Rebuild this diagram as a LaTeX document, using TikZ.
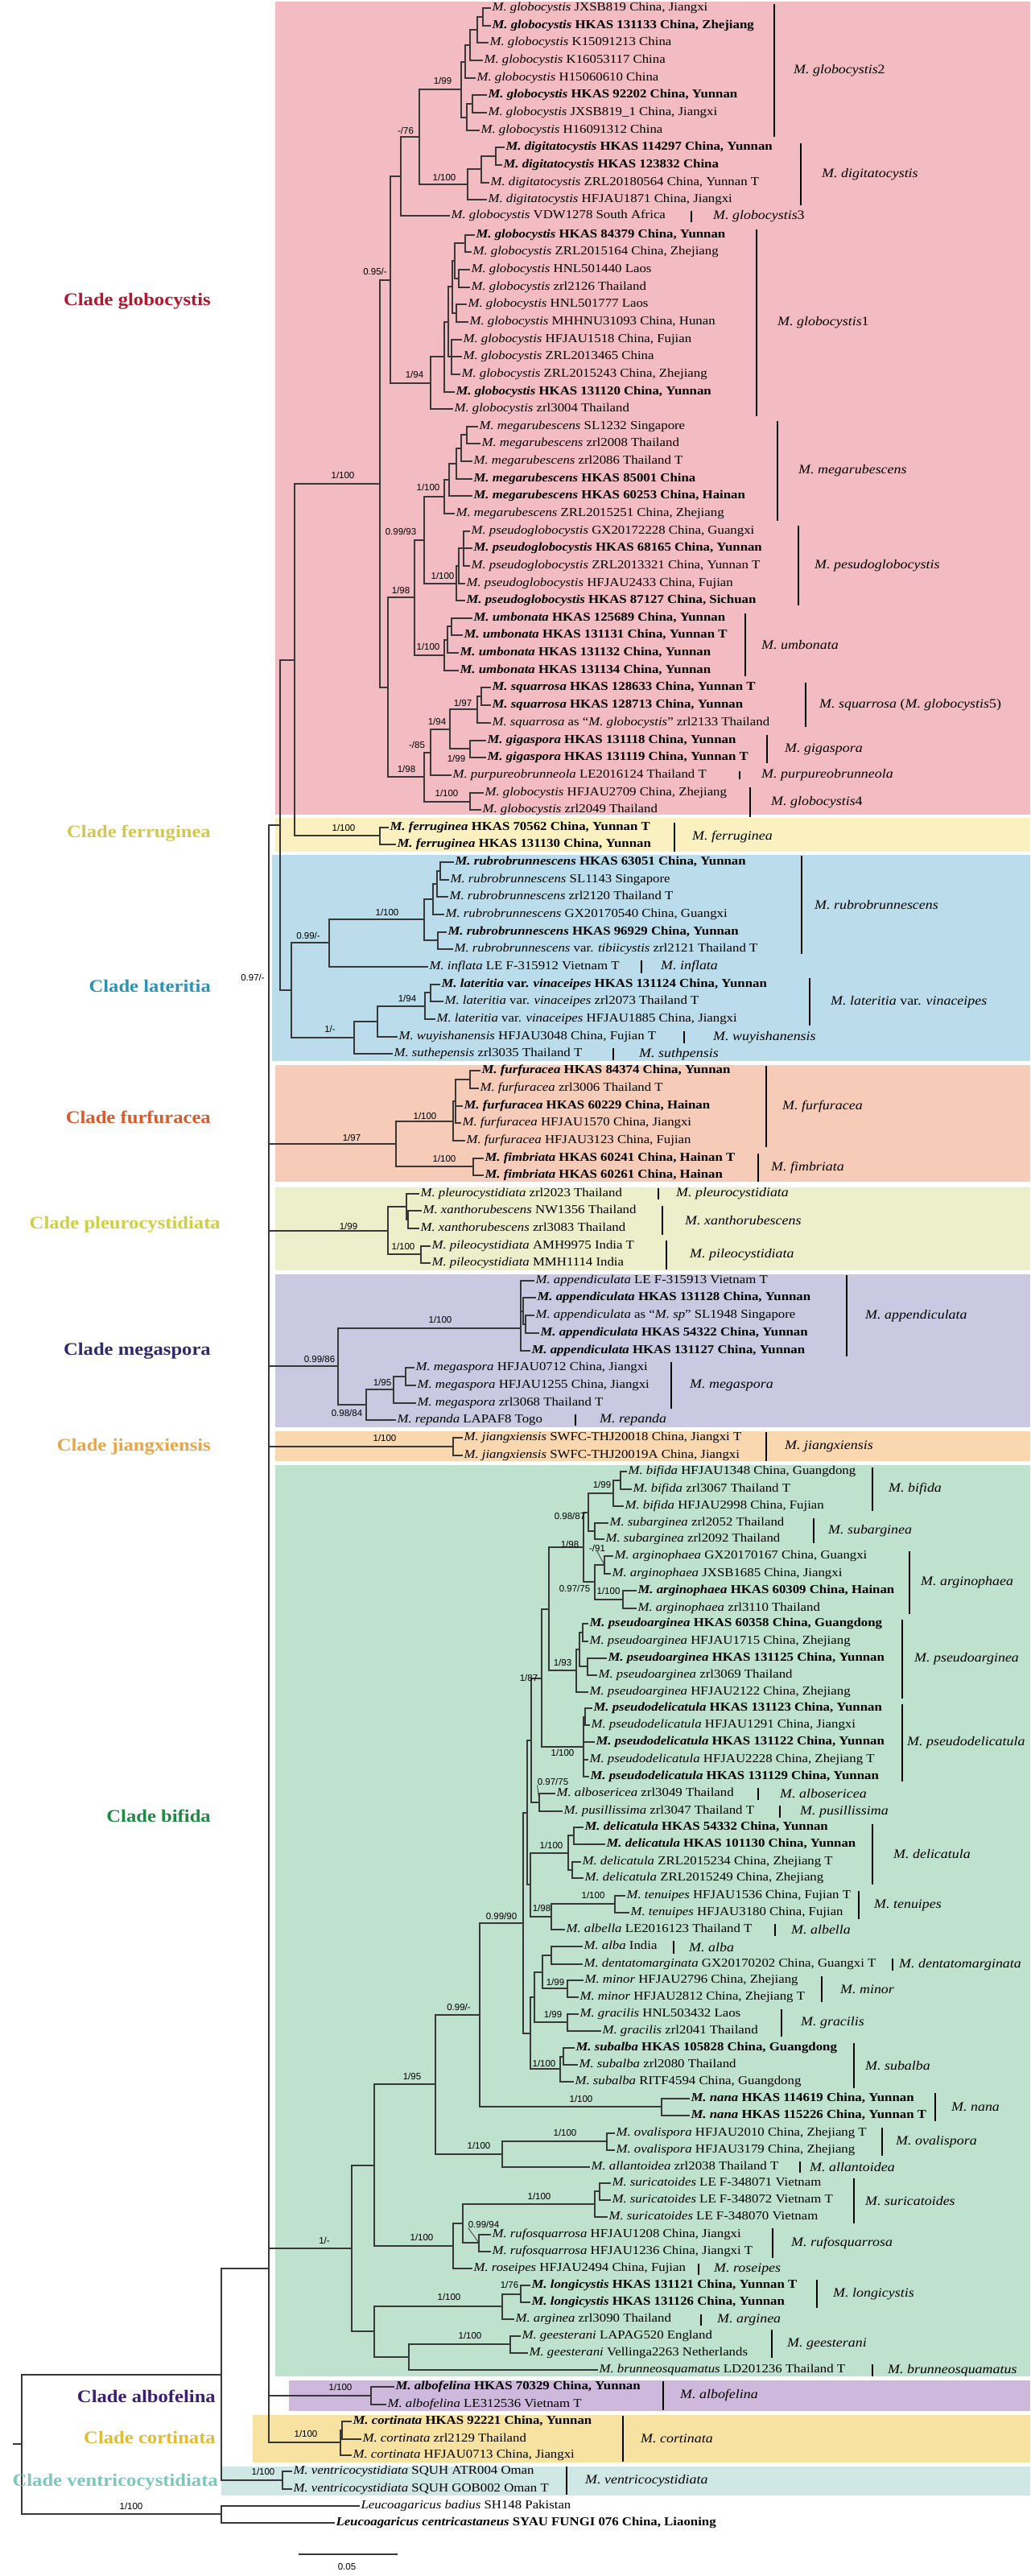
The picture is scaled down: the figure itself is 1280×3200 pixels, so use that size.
\documentclass[tikz,border=0pt]{standalone}
\usepackage{fontspec}
\setmainfont{Liberation Serif}[FakeStretch=1.12]
\newfontfamily\suppfont{Liberation Sans}
\definecolor{bgGlob}{HTML}{F3BCC2}
\definecolor{bgFerr}{HTML}{FBF1C0}
\definecolor{bgLat}{HTML}{BBDDEB}
\definecolor{bgFurf}{HTML}{F6CBB7}
\definecolor{bgPleu}{HTML}{ECF0CA}
\definecolor{bgMega}{HTML}{CBC8E2}
\definecolor{bgJiang}{HTML}{F9D8B0}
\definecolor{bgBif}{HTML}{BFE2CE}
\definecolor{bgAlbo}{HTML}{CEB9DD}
\definecolor{bgCort}{HTML}{F8E2A2}
\definecolor{bgVent}{HTML}{CFE7E5}
\definecolor{tcGlob}{HTML}{B3162F}
\definecolor{tcFerr}{HTML}{D2C850}
\definecolor{tcLat}{HTML}{2E92B4}
\definecolor{tcFurf}{HTML}{DA5A2C}
\definecolor{tcPleu}{HTML}{CFCF45}
\definecolor{tcMega}{HTML}{2E2A70}
\definecolor{tcJiang}{HTML}{E9A548}
\definecolor{tcBif}{HTML}{1E8B45}
\definecolor{tcAlbo}{HTML}{3C1F70}
\definecolor{tcCort}{HTML}{E2BC34}
\definecolor{tcVent}{HTML}{7DC7BB}
\colorlet{brc}{black!78}
\newcommand\leaffont{\fontsize{15}{16}\selectfont}
\newcommand\supsize{\suppfont\fontsize{11.5}{12}\selectfont}
% leaves: name, x, y, epithet, rest
\newcommand\lf[5]{\node[leaf] (#1) at (#2,#3) {\textit{M. #4} #5};}
\newcommand\lfb[5]{\node[leaf,font=\leaffont\bfseries] (#1) at (#2,#3) {\textit{M. #4} #5};}
% parent to children
\newcommand\kids[2]{\foreach \ch in {#2}{\draw[br] (#1) |- (\ch);}}
% species bar and name: name, bar x, y1, y2, label x, text
\newcommand\grp[6]{\draw[bar] (#2,#3) -- (#2,#4); \node[slab] (#1) at (#5,{(#3+#4)/2}) {#6};}

\begin{document}
\begin{tikzpicture}[x=1pt,y=-1pt,
    leaf/.style={anchor=west,inner sep=0pt,outer sep=1.5pt,text height=10pt,text depth=3pt,font=\leaffont},
    br/.style={draw=brc,line width=1.4pt},
    bar/.style={draw=black,line width=2.6pt},
    slab/.style={anchor=west,inner sep=0pt,font=\fontsize{16}{17}\selectfont},
    sup/.style={inner sep=0pt,font=\supsize},
    lead/.style={draw=brc,line width=0.8pt},
    clade/.style={anchor=east,inner sep=0pt,font=\fontsize{22}{23}\selectfont\bfseries}]
\fill[white] (0,0) rectangle (1280,3200);
\useasboundingbox (0,0) rectangle (1280,3200);

% clade backgrounds
\fill[bgGlob] (342,2) rectangle (1280,1012);
\fill[bgFerr] (342,1016) rectangle (1280,1058);
\fill[bgLat] (338,1062) rectangle (1280,1318);
\fill[bgFurf] (342,1323) rectangle (1280,1468);
\fill[bgPleu] (342,1475) rectangle (1280,1578);
\fill[bgMega] (342,1583) rectangle (1280,1773);
\fill[bgJiang] (342,1778) rectangle (1280,1815);
\fill[bgBif] (342,1820) rectangle (1280,2952);
\fill[bgAlbo] (359,2957) rectangle (1280,2995);
\fill[bgCort] (314,3000) rectangle (1280,3059);
\fill[bgVent] (275,3064) rectangle (1280,3100);

% ---- clade globocystis
\lf{g1}{610}{10}{globocystis}{JXSB819 China, Jiangxi}
\lfb{g2}{610}{32}{globocystis}{HKAS 131133 China, Zhejiang}
\lf{g3}{607}{53}{globocystis}{K15091213 China}
\lf{g4}{600}{75}{globocystis}{K16053117 China}
\lf{g5}{591}{97}{globocystis}{H15060610 China}
\lfb{g6}{605}{118}{globocystis}{HKAS 92202 China, Yunnan}
\lf{g7}{605}{140}{globocystis}{JXSB819\_1 China, Jiangxi}
\lf{g8}{596}{162}{globocystis}{H16091312 China}
\lfb{d1}{627}{183}{digitatocystis}{HKAS 114297 China, Yunnan}
\lfb{d2}{624}{205}{digitatocystis}{HKAS 123832 China}
\lf{d3}{608}{227}{digitatocystis}{ZRL20180564 China, Yunnan T}
\lf{d4}{605}{248}{digitatocystis}{HFJAU1871 China, Jiangxi}
\lf{g9}{559}{268}{globocystis}{VDW1278 South Africa}
\lfb{h1}{590}{292}{globocystis}{HKAS 84379 China, Yunnan}
\lf{h2}{586}{313}{globocystis}{ZRL2015164 China, Zhejiang}
\lf{h3}{584}{335}{globocystis}{HNL501440 Laos}
\lf{h4}{584}{357}{globocystis}{zrl2126 Thailand}
\lf{h5}{580}{378}{globocystis}{HNL501777 Laos}
\lf{h6}{582}{400}{globocystis}{MHHNU31093 China, Hunan}
\lf{h7}{574}{422}{globocystis}{HFJAU1518 China, Fujian}
\lf{h8}{574}{443}{globocystis}{ZRL2013465 China}
\lf{h9}{572}{465}{globocystis}{ZRL2015243 China, Zhejiang}
\lfb{h10}{565}{487}{globocystis}{HKAS 131120 China, Yunnan}
\lf{h11}{563}{508}{globocystis}{zrl3004 Thailand}
\lf{r1}{594}{530}{megarubescens}{SL1232 Singapore}
\lf{r2}{597}{551}{megarubescens}{zrl2008 Thailand}
\lf{r3}{587}{573}{megarubescens}{zrl2086 Thailand T}
\lfb{r4}{587}{595}{megarubescens}{HKAS 85001 China}
\lfb{r5}{587}{616}{megarubescens}{HKAS 60253 China, Hainan}
\lf{r6}{565}{638}{megarubescens}{ZRL2015251 China, Zhejiang}
\lf{p1}{584}{660}{pseudoglobocystis}{GX20172228 China, Guangxi}
\lfb{p2}{587}{681}{pseudoglobocystis}{HKAS 68165 China, Yunnan}
\lf{p3}{584}{703}{pseudoglobocystis}{ZRL2013321 China, Yunnan T}
\lf{p4}{578}{725}{pseudoglobocystis}{HFJAU2433 China, Fujian}
\lfb{p5}{578}{746}{pseudoglobocystis}{HKAS 87127 China, Sichuan}
\lfb{u1}{587}{768}{umbonata}{HKAS 125689 China, Yunnan}
\lfb{u2}{575}{789}{umbonata}{HKAS 131131 China, Yunnan T}
\lfb{u3}{570}{811}{umbonata}{HKAS 131132 China, Yunnan}
\lfb{u4}{570}{833}{umbonata}{HKAS 131134 China, Yunnan}
\lfb{s1}{610}{854}{squarrosa}{HKAS 128633 China, Yunnan T}
\lfb{s2}{610}{876}{squarrosa}{HKAS 128713 China, Yunnan}
\lf{s3}{610}{898}{squarrosa}{as “\textit{M. globocystis}” zrl2133 Thailand}
\lfb{gg1}{604}{920}{gigaspora}{HKAS 131118 China, Yunnan}
\lfb{gg2}{604}{941}{gigaspora}{HKAS 131119 China, Yunnan T}
\lf{pp}{561}{963}{purpureobrunneola}{LE2016124 Thailand T}
\lf{q1}{601}{985}{globocystis}{HFJAU2709 China, Zhejiang}
\lf{q2}{598}{1006}{globocystis}{zrl2049 Thailand}

\coordinate (n12) at (600,21);
\coordinate (n123) at (593,37);
\coordinate (n1234) at (584,56);
\coordinate (n12345) at (578,77);
\coordinate (n67) at (587,129);
\coordinate (n678) at (580,146);
\coordinate (nG2) at (573,111);
\coordinate (nd12) at (616,194);
\coordinate (nd123) at (598,210);
\coordinate (nD) at (581,229);
\coordinate (n76) at (521,170);
\coordinate (n7x) at (498,219);
\coordinate (m12) at (578,302);
\coordinate (m34) at (570,346);
\coordinate (m56) at (567,389);
\coordinate (m14) at (565,324);
\coordinate (m16) at (562,356);
\coordinate (m79) at (561,443);
\coordinate (m19) at (557,400);
\coordinate (m110) at (552,443);
\coordinate (nG1) at (535,476);
\coordinate (n95) at (485,348);
\coordinate (r12) at (580,540);
\coordinate (r13) at (573,557);
\coordinate (r14) at (567,576);
\coordinate (r15) at (558,596);
\coordinate (nMR) at (552,617);
\coordinate (p123) at (576,681);
\coordinate (p1234) at (570,703);
\coordinate (nPG) at (567,725);
\coordinate (n9993) at (527,671);
\coordinate (u12) at (561,778);
\coordinate (u13) at (556,795);
\coordinate (nU) at (552,814);
\coordinate (n198a) at (515,742);
\coordinate (s12) at (598,865);
\coordinate (nSQ) at (593,881);
\coordinate (nGG) at (584,930);
\coordinate (n194) at (559,906);
\coordinate (n85) at (535,935);
\coordinate (nG4) at (584,996);
\coordinate (n198b) at (527,965);
\coordinate (nlow) at (482,854);
\coordinate (nGLOB) at (472,601);
\kids{n12}{g1,g2} \kids{n123}{n12,g3} \kids{n1234}{n123,g4} \kids{n12345}{n1234,g5}
\kids{n67}{g6,g7} \kids{n678}{n67,g8} \kids{nG2}{n12345,n678}
\kids{nd12}{d1,d2} \kids{nd123}{nd12,d3} \kids{nD}{nd123,d4} \kids{n76}{nG2,nD} \kids{n7x}{n76,g9}
\kids{m12}{h1,h2} \kids{m34}{h3,h4} \kids{m56}{h5,h6} \kids{m14}{m12,m34} \kids{m16}{m14,m56}
\kids{m79}{h7,h8,h9} \kids{m19}{m16,m79} \kids{m110}{m19,h10} \kids{nG1}{m110,h11} \kids{n95}{n7x,nG1}
\kids{r12}{r1,r2} \kids{r13}{r12,r3} \kids{r14}{r13,r4} \kids{r15}{r14,r5} \kids{nMR}{r15,r6}
\kids{p123}{p1,p2,p3} \kids{p1234}{p123,p4} \kids{nPG}{p1234,p5} \kids{n9993}{nMR,nPG}
\kids{u12}{u1,u2} \kids{u13}{u12,u3} \kids{nU}{u13,u4} \kids{n198a}{n9993,nU}
\kids{s12}{s1,s2} \kids{nSQ}{s12,s3} \kids{nGG}{gg1,gg2} \kids{n194}{nSQ,nGG} \kids{n85}{n194,pp}
\kids{nG4}{q1,q2} \kids{n198b}{n85,nG4} \kids{nlow}{n198a,n198b} \kids{nGLOB}{n95,nlow}

% ---- clade ferruginea
\lfb{f1}{483}{1028}{ferruginea}{HKAS 70562 China, Yunnan T}
\lfb{f2}{492}{1049}{ferruginea}{HKAS 131130 China, Yunnan}
\coordinate (nF) at (472,1038);
\kids{nF}{f1,f2}

% ---- clade lateritia
\lfb{b1}{564}{1071}{rubrobrunnescens}{HKAS 63051 China, Yunnan}
\lf{b2}{558}{1093}{rubrobrunnescens}{SL1143 Singapore}
\lf{b3}{557}{1114}{rubrobrunnescens}{zrl2120 Thailand T}
\lf{b4}{552}{1136}{rubrobrunnescens}{GX20170540 China, Guangxi}
\lfb{b5}{555}{1158}{rubrobrunnescens}{HKAS 96929 China, Yunnan}
\lf{b6}{563}{1179}{rubrobrunnescens}{var. \textit{tibiicystis} zrl2121 Thailand T}
\lf{inf}{532}{1201}{inflata}{LE F-315912 Vietnam T}
\lfb{l1}{547}{1223}{lateritia}{var. \textit{vinaceipes} HKAS 131124 China, Yunnan}
\lf{l2}{551}{1244}{lateritia}{var. \textit{vinaceipes} zrl2073 Thailand T}
\lf{l3}{541}{1266}{lateritia}{var. \textit{vinaceipes} HFJAU1885 China, Jiangxi}
\lf{wu}{494}{1288}{wuyishanensis}{HFJAU3048 China, Fujian T}
\lf{su}{488}{1309}{suthepensis}{zrl3035 Thailand T}
\coordinate (b12) at (547,1082);
\coordinate (b13) at (543,1098);
\coordinate (b14) at (538,1117);
\coordinate (b56) at (544,1168);
\coordinate (nRB) at (527,1142);
\coordinate (n099) at (409,1171);
\coordinate (l12) at (535,1233);
\coordinate (nLV) at (528,1250);
\coordinate (nLW) at (469,1269);
\coordinate (n1m) at (440,1289);
\coordinate (nLAT) at (362,1230);
\kids{b12}{b1,b2} \kids{b13}{b12,b3} \kids{b14}{b13,b4} \kids{b56}{b5,b6} \kids{nRB}{b14,b56}
\kids{n099}{nRB,inf} \kids{l12}{l1,l2} \kids{nLV}{l12,l3} \kids{nLW}{nLV,wu} \kids{n1m}{nLW,su}
\kids{nLAT}{n099,n1m}

% ---- clade furfuracea
\lfb{ff1}{597}{1330}{furfuracea}{HKAS 84374 China, Yunnan}
\lf{ff2}{595}{1352}{furfuracea}{zrl3006 Thailand T}
\lfb{ff3}{575}{1374}{furfuracea}{HKAS 60229 China, Hainan}
\lf{ff4}{573}{1395}{furfuracea}{HFJAU1570 China, Jiangxi}
\lf{ff5}{578}{1417}{furfuracea}{HFJAU3123 China, Fujian}
\lfb{fi1}{601}{1439}{fimbriata}{HKAS 60241 China, Hainan T}
\lfb{fi2}{601}{1460}{fimbriata}{HKAS 60261 China, Hainan}
\coordinate (ff12) at (584,1341);
\coordinate (f14) at (566,1368);
\coordinate (nFU) at (563,1393);
\coordinate (nFI) at (588,1449);
\coordinate (nFURF) at (492,1421);
\kids{ff12}{ff1,ff2} \kids{f14}{ff12,ff3,ff4} \kids{nFU}{f14,ff5} \kids{nFI}{fi1,fi2} \kids{nFURF}{nFU,nFI}

% ---- clade pleurocystidiata
\lf{pl}{521}{1483}{pleurocystidiata}{zrl2023 Thailand}
\lf{x1}{524}{1504}{xanthorubescens}{NW1356 Thailand}
\lf{x2}{521}{1526}{xanthorubescens}{zrl3083 Thailand}
\lf{pi1}{535}{1548}{pileocystidiata}{AMH9975 India T}
\lf{pi2}{535}{1569}{pileocystidiata}{MMH1114 India}
\coordinate (nX) at (507,1515);
\coordinate (nPX) at (505,1499);
\coordinate (nPI) at (523,1558);
\coordinate (nPLEU) at (482,1529);
\kids{nX}{x1,x2} \kids{nPX}{pl,nX} \kids{nPI}{pi1,pi2} \kids{nPLEU}{nPX,nPI}

% ---- clade megaspora
\lf{a1}{664}{1591}{appendiculata}{LE F-315913 Vietnam T}
\lfb{a2}{666}{1612}{appendiculata}{HKAS 131128 China, Yunnan}
\lf{a3}{664}{1634}{appendiculata}{as “\textit{M. sp}” SL1948 Singapore}
\lfb{a4}{670}{1656}{appendiculata}{HKAS 54322 China, Yunnan}
\lfb{a5}{659}{1678}{appendiculata}{HKAS 131127 China, Yunnan}
\lf{m1}{515}{1699}{megaspora}{HFJAU0712 China, Jiangxi}
\lf{m2}{517}{1721}{megaspora}{HFJAU1255 China, Jiangxi}
\lf{m3}{517}{1743}{megaspora}{zrl3068 Thailand T}
\lf{rp}{492}{1764}{repanda}{LAPAF8 Togo}
\coordinate (a34) at (653,1645);
\coordinate (a24) at (650,1629);
\coordinate (nAP) at (647,1650);
\coordinate (m12b) at (504,1710);
\coordinate (nMS) at (489,1726);
\coordinate (n9884) at (455,1745);
\coordinate (nMEGA) at (420,1697);
\kids{a34}{a3,a4} \kids{a24}{a2,a34} \kids{nAP}{a1,a24,a5}
\kids{m12b}{m1,m2} \kids{nMS}{m12b,m3} \kids{n9884}{nMS,rp} \kids{nMEGA}{nAP,n9884}

% ---- clade jiangxiensis
\lf{j1}{575}{1786}{jiangxiensis}{SWFC-THJ20018 China, Jiangxi T}
\lf{j2}{575}{1808}{jiangxiensis}{SWFC-THJ20019A China, Jiangxi}
\coordinate (nJ) at (563,1797);
\kids{nJ}{j1,j2}

% ---- clade bifida
\lf{bf1}{779}{1828}{bifida}{HFJAU1348 China, Guangdong}
\lf{bf2}{785}{1850}{bifida}{zrl3067 Thailand T}
\lf{bf3}{775}{1871}{bifida}{HFJAU2998 China, Fujian}
\lf{sb1}{756}{1892}{subarginea}{zrl2052 Thailand}
\lf{sb2}{751}{1912}{subarginea}{zrl2092 Thailand}
\lf{ar1}{762}{1933}{arginophaea}{GX20170167 China, Guangxi}
\lf{ar2}{759}{1955}{arginophaea}{JXSB1685 China, Jiangxi}
\lfb{ar3}{791}{1976}{arginophaea}{HKAS 60309 China, Hainan}
\lf{ar4}{791}{1998}{arginophaea}{zrl3110 Thailand}
\lfb{pa1}{731}{2017}{pseudoarginea}{HKAS 60358 China, Guangdong}
\lf{pa2}{731}{2039}{pseudoarginea}{HFJAU1715 China, Zhejiang}
\lfb{pa3}{754}{2060}{pseudoarginea}{HKAS 131125 China, Yunnan}
\lf{pa4}{742}{2081}{pseudoarginea}{zrl3069 Thailand}
\lf{pa5}{731}{2102}{pseudoarginea}{HFJAU2122 China, Zhejiang}
\lfb{pd1}{736}{2122}{pseudodelicatula}{HKAS 131123 China, Yunnan}
\lf{pd2}{733}{2143}{pseudodelicatula}{HFJAU1291 China, Jiangxi}
\lfb{pd3}{739}{2164}{pseudodelicatula}{HKAS 131122 China, Yunnan}
\lf{pd4}{731}{2186}{pseudodelicatula}{HFJAU2228 China, Zhejiang T}
\lfb{pd5}{732}{2207}{pseudodelicatula}{HKAS 131129 China, Yunnan}
\lf{ab}{690}{2228}{albosericea}{zrl3049 Thailand}
\lf{pu}{699}{2250}{pusillissima}{zrl3047 Thailand T}
\lfb{de1}{725}{2270}{delicatula}{HKAS 54332 China, Yunnan}
\lfb{de2}{752}{2291}{delicatula}{HKAS 101130 China, Yunnan}
\lf{de3}{722}{2313}{delicatula}{ZRL2015234 China, Zhejiang T}
\lf{de4}{725}{2333}{delicatula}{ZRL2015249 China, Zhejiang}
\lf{te1}{777}{2355}{tenuipes}{HFJAU1536 China, Fujian T}
\lf{te2}{782}{2376}{tenuipes}{HFJAU3180 China, Fujian}
\lf{al}{702}{2397}{albella}{LE2016123 Thailand T}
\lf{alb}{724}{2418}{alba}{India}
\lf{den}{724}{2440}{dentatomarginata}{GX20170202 China, Guangxi T}
\lf{mi1}{725}{2460}{minor}{HFJAU2796 China, Zhejiang}
\lf{mi2}{719}{2481}{minor}{HFJAU2812 China, Zhejiang T}
\lf{gr1}{719}{2502}{gracilis}{HNL503432 Laos}
\lf{gr2}{747}{2523}{gracilis}{zrl2041 Thailand}
\lfb{sa1}{714}{2544}{subalba}{HKAS 105828 China, Guangdong}
\lf{sa2}{718}{2565}{subalba}{zrl2080 Thailand}
\lf{sa3}{713}{2586}{subalba}{RITF4594 China, Guangdong}
\lfb{na1}{857}{2607}{nana}{HKAS 114619 China, Yunnan}
\lfb{na2}{857}{2628}{nana}{HKAS 115226 China, Yunnan T}
\lf{ov1}{764}{2650}{ovalispora}{HFJAU2010 China, Zhejiang T}
\lf{ov2}{764}{2671}{ovalispora}{HFJAU3179 China, Zhejiang}
\lf{an}{733}{2692}{allantoidea}{zrl2038 Thailand T}
\lf{sr1}{759}{2712}{suricatoides}{LE F-348071 Vietnam}
\lf{sr2}{759}{2733}{suricatoides}{LE F-348072 Vietnam T}
\lf{sr3}{755}{2754}{suricatoides}{LE F-348070 Vietnam}
\lf{rf1}{610}{2776}{rufosquarrosa}{HFJAU1208 China, Jiangxi}
\lf{rf2}{610}{2797}{rufosquarrosa}{HFJAU1236 China, Jiangxi T}
\lf{ro}{587}{2818}{roseipes}{HFJAU2494 China, Fujian}
\lfb{lo1}{659}{2839}{longicystis}{HKAS 131121 China, Yunnan T}
\lfb{lo2}{659}{2860}{longicystis}{HKAS 131126 China, Yunnan}
\lf{ag}{639}{2881}{arginea}{zrl3090 Thailand}
\lf{ge1}{647}{2902}{geesterani}{LAPAG520 England}
\lf{ge2}{656}{2923}{geesterani}{Vellinga2263 Netherlands}
\lf{bq}{743}{2944}{brunneosquamatus}{LD201236 Thailand T}
\coordinate (bf12) at (771,1839);
\coordinate (nBF) at (762,1855);
\coordinate (nSB) at (739,1902);
\coordinate (n9887) at (731,1879);
\coordinate (nAR12) at (751,1944);
\coordinate (nAR34) at (774,1987);
\coordinate (n9775) at (739,1965);
\coordinate (n198c) at (725,1922);
\coordinate (pa12) at (724,2028);
\coordinate (pa34) at (730,2070);
\coordinate (pa14) at (720,2049);
\coordinate (nPA) at (716,2075);
\coordinate (nA2) at (682,1999);
\coordinate (pd12) at (727,2133);
\coordinate (nPD) at (725,2170);
\coordinate (nA3) at (673,2085);
\coordinate (nAB) at (670,2239);
\coordinate (nA4) at (660,2162);
\coordinate (de12) at (713,2280);
\coordinate (de34) at (711,2323);
\coordinate (nDE) at (706,2302);
\coordinate (nTE) at (764,2365);
\coordinate (nTA) at (685,2381);
\coordinate (nA5) at (659,2341);
\coordinate (nFb) at (655,2252);
\coordinate (nAD) at (685,2429);
\coordinate (nMI) at (705,2470);
\coordinate (nB1) at (674,2450);
\coordinate (nGR) at (705,2512);
\coordinate (nB2) at (664,2481);
\coordinate (sa12) at (700,2555);
\coordinate (nSA) at (696,2570);
\coordinate (nBD) at (659,2526);
\coordinate (nE) at (650,2389);
\coordinate (nNA) at (822,2617);
\coordinate (nG) at (596,2503);
\coordinate (nOV) at (754,2660);
\coordinate (nOA) at (624,2676);
\coordinate (nH) at (541,2589);
\coordinate (sr12) at (745,2722);
\coordinate (nSR) at (739,2738);
\coordinate (nRF) at (595,2786);
\coordinate (nK) at (575,2762);
\coordinate (nJ2) at (563,2790);
\coordinate (nI) at (465,2690);
\coordinate (nLO) at (647,2850);
\coordinate (nLA) at (624,2865);
\coordinate (nGE) at (634,2912);
\coordinate (nN) at (508,2928);
\coordinate (nM) at (465,2896);
\coordinate (nBIF) at (437,2793);
\kids{bf12}{bf1,bf2} \kids{nBF}{bf12,bf3} \kids{nSB}{sb1,sb2} \kids{n9887}{nBF,nSB}
\kids{nAR12}{ar1,ar2} \kids{nAR34}{ar3,ar4} \kids{n9775}{nAR12,nAR34} \kids{n198c}{n9887,n9775}
\kids{pa12}{pa1,pa2} \kids{pa34}{pa3,pa4} \kids{pa14}{pa12,pa34} \kids{nPA}{pa14,pa5} \kids{nA2}{n198c,nPA}
\kids{pd12}{pd1,pd2} \kids{nPD}{pd12,pd3,pd4,pd5} \kids{nA3}{nA2,nPD}
\kids{nAB}{ab,pu} \kids{nA4}{nA3,nAB}
\kids{de12}{de1,de2} \kids{de34}{de3,de4} \kids{nDE}{de12,de34} \kids{nTE}{te1,te2} \kids{nTA}{nTE,al}
\kids{nA5}{nDE,nTA} \kids{nFb}{nA4,nA5}
\kids{nAD}{alb,den} \kids{nMI}{mi1,mi2} \kids{nB1}{nAD,nMI} \kids{nGR}{gr1,gr2} \kids{nB2}{nB1,nGR}
\kids{sa12}{sa1,sa2} \kids{nSA}{sa12,sa3} \kids{nBD}{nB2,nSA} \kids{nE}{nFb,nBD}
\kids{nNA}{na1,na2} \kids{nG}{nE,nNA} \kids{nOV}{ov1,ov2} \kids{nOA}{nOV,an} \kids{nH}{nG,nOA}
\kids{sr12}{sr1,sr2} \kids{nSR}{sr12,sr3} \kids{nRF}{rf1,rf2} \kids{nK}{nSR,nRF} \kids{nJ2}{nK,ro}
\kids{nI}{nH,nJ2} \kids{nLO}{lo1,lo2} \kids{nLA}{nLO,ag} \kids{nGE}{ge1,ge2} \kids{nN}{nGE,bq}
\kids{nM}{nLA,nN} \kids{nBIF}{nI,nM}

% ---- albofelina, cortinata, ventricocystidiata, outgroup
\lfb{ao1}{490}{2965}{albofelina}{HKAS 70329 China, Yunnan}
\lf{ao2}{480}{2987}{albofelina}{LE312536 Vietnam T}
\lfb{co1}{437}{3008}{cortinata}{HKAS 92221 China, Yunnan}
\lf{co2}{449}{3030}{cortinata}{zrl2129 Thailand}
\lf{co3}{437}{3050}{cortinata}{HFJAU0713 China, Jiangxi}
\lf{v1}{363}{3070}{ventricocystidiata}{SQUH ATR004 Oman}
\lf{v2}{363}{3092}{ventricocystidiata}{SQUH GOB002 Oman T}
\node[leaf] (o1) at (447,3113) {\textit{Leucoagaricus badius} SH148 Pakistan};
\node[leaf,font=\leaffont\bfseries] (o2) at (416,3134) {\textit{Leucoagaricus centricastaneus} SYAU FUNGI 076 China, Liaoning};
\coordinate (nAO) at (461,2976);
\coordinate (co12) at (425,3019);
\coordinate (nCO) at (423,3034);
\coordinate (nV) at (351,3081);
\coordinate (nO) at (275,3123);
\kids{nAO}{ao1,ao2} \kids{co12}{co1,co2} \kids{nCO}{co12,co3} \kids{nV}{v1,v2} \kids{nO}{o1,o2}

% ---- backbone
\coordinate (nGF) at (366,820);
\coordinate (nGL) at (348,1025);
\coordinate (nB3) at (334,1223);
\coordinate (nB4) at (334,1376);
\coordinate (nB5) at (334,1536);
\coordinate (nB6) at (334,1667);
\coordinate (nB7) at (334,2230);
\coordinate (nB8) at (334,2603);
\coordinate (nB9) at (334,2818);
\coordinate (nIN) at (275,2950);
\coordinate (nRoot) at (27,3036);
\coordinate (nStub) at (16,3036);
\kids{nGF}{nGLOB,nF} \kids{nGL}{nGF,nLAT} \kids{nB3}{nGL,nFURF} \kids{nB4}{nB3,nPLEU}
\kids{nB5}{nB4,nMEGA} \kids{nB6}{nB5,nJ} \kids{nB7}{nB6,nBIF} \kids{nB8}{nB7,nAO}
\kids{nB9}{nB8,nCO} \kids{nIN}{nB9,nV} \kids{nRoot}{nIN,nO}
\draw[br] (nStub) -- (nRoot);

% ---- support values
\foreach \sx/\sy/\st [count=\i] in {550/100/{1/99}, 504/162/{-/76}, 552/220/{1/100}, 466/337/{0.95/-},
  515/465/{1/94}, 426/590/{1/100}, 532/605/{1/100}, 498/660/{0.99/93}, 550/715/{1/100}, 498/733/{1/98},
  532/803/{1/100}, 575/873/{1/97}, 543/896/{1/94}, 518/925/{-/85}, 567/942/{1/99}, 505/955/{1/98},
  555/985/{1/100}, 427/1028/{1/100}, 481/1133/{1/100}, 383/1162/{0.99/-}, 506/1240/{1/94}, 410/1278/{1/-},
  314/1214/{0.97/-}, 528/1386/{1/100}, 437/1413/{1/97}, 552/1439/{1/100}, 433/1523/{1/99}, 501/1548/{1/100},
  547/1639/{1/100}, 397/1688/{0.99/86}, 475/1717/{1/95}, 431/1755/{0.98/84}, 478/1786/{1/100},
  748/1844/{1/99}, 708/1883/{0.98/87}, 708/1918/{1/98}, 714/1973/{0.97/75}, 756/1976/{1/100},
  699/2065/{1/93}, 657/2084/{1/87}, 699/2177/{1/100}, 685/2292/{1/100}, 737/2354/{1/100}, 673/2370/{1/98},
  623/2380/{0.99/90}, 690/2462/{1/99}, 570/2493/{0.99/-}, 687/2502/{1/99}, 512/2579/{1/95}, 676/2563/{1/100},
  722/2607/{1/100}, 702/2649/{1/100}, 595/2665/{1/100}, 670/2728/{1/100}, 403/2783/{1/-}, 524/2779/{1/100},
  633/2838/{1/76}, 558/2853/{1/100}, 584/2901/{1/100}, 423/2965/{1/100}, 380/3023/{1/100}, 327/3070/{1/100},
  163/3113/{1/100}}
  \node[sup] (sp\i) at (\sx,\sy) {\st};
\node[sup] (s91) at (742,1923) {-/91};
\node[sup] (s9775) at (687,2213) {0.97/75};
\node[sup] (s9994) at (601,2763) {0.99/94};
\draw[lead] (s91.south) -- (nAR12);
\draw[lead] (s9775.south west) -- (nAB);
\draw[lead] (s9994.south west) -- (nRF);

% ---- species bars
\grp{tG2}{962}{5}{170}{986}{\textit{M. globocystis}2}
\grp{tDG}{995}{178}{255}{1021}{\textit{M. digitatocystis}}
\grp{tG3}{859}{262}{276}{886}{\textit{M. globocystis}3}
\grp{tG1}{940}{285}{517}{966}{\textit{M. globocystis}1}
\grp{tMR}{966}{523}{647}{992}{\textit{M. megarubescens}}
\grp{tPG}{992}{653}{752}{1012}{\textit{M. pesudoglobocystis}}
\grp{tUM}{926}{762}{840}{946}{\textit{M. umbonata}}
\grp{tSQ}{1001}{848}{903}{1018}{\textit{M. squarrosa} (\textit{M. globocystis}5)}
\grp{tGG}{953}{913}{948}{975}{\textit{M. gigaspora}}
\grp{tPP}{919}{958}{968}{946}{\textit{M. purpureobrunneola}}
\grp{tG4}{932}{978}{1015}{958}{\textit{M. globocystis}4}
\grp{tFE}{838}{1022}{1058}{860}{\textit{M. ferruginea}}
\grp{tRB}{996}{1063}{1185}{1012}{\textit{M. rubrobrunnescens}}
\grp{tIN}{797}{1193}{1209}{821}{\textit{M. inflata}}
\grp{tLV}{1006}{1215}{1274}{1032}{\textit{M. lateritia} var. \textit{vinaceipes}}
\grp{tWU}{850}{1281}{1296}{886}{\textit{M. wuyishanensis}}
\grp{tSU}{762}{1302}{1317}{794}{\textit{M. suthpensis}}
\grp{tFU}{952}{1324}{1425}{972}{\textit{M. furfuracea}}
\grp{tFI}{942}{1433}{1468}{958}{\textit{M. fimbriata}}
\grp{tPL}{818}{1476}{1490}{840}{\textit{M. pleurocystidiata}}
\grp{tXA}{823}{1498}{1534}{851}{\textit{M. xanthorubescens}}
\grp{tPI}{828}{1541}{1577}{857}{\textit{M. pileocystidiata}}
\grp{tAP}{1052}{1584}{1685}{1075}{\textit{M. appendiculata}}
\grp{tMS}{834}{1692}{1750}{857}{\textit{M. megaspora}}
\grp{tRP}{715}{1757}{1771}{745}{\textit{M. repanda}}
\grp{tJX}{952}{1779}{1815}{975}{\textit{M. jiangxiensis}}
\grp{tBF}{1084}{1823}{1877}{1104}{\textit{M. bifida}}
\grp{tSB}{1011}{1886}{1917}{1029}{\textit{M. subarginea}}
\grp{tAR}{1130}{1927}{2005}{1144}{\textit{M. arginophaea}}
\grp{tPA}{1121}{2012}{2110}{1136}{\textit{M. pseudoarginea}}
\grp{tPD}{1121}{2117}{2213}{1127}{\textit{M. pseudodelicatula}}
\grp{tAB}{942}{2221}{2236}{969}{\textit{M. albosericea}}
\grp{tPU}{969}{2243}{2258}{994}{\textit{M. pusillissima}}
\grp{tDE}{1084}{2266}{2341}{1110}{\textit{M. delicatula}}
\grp{tTE}{1067}{2349}{2384}{1086}{\textit{M. tenuipes}}
\grp{tAL}{963}{2390}{2405}{983}{\textit{M. albella}}
\grp{tALB}{837}{2411}{2427}{856}{\textit{M. alba}}
\grp{tDT}{1109}{2433}{2448}{1117}{\textit{M. dentatomarginata}}
\grp{tMI}{1021}{2455}{2487}{1044}{\textit{M. minor}}
\grp{tGR}{971}{2496}{2530}{995}{\textit{M. gracilis}}
\grp{tSA}{1061}{2538}{2594}{1075}{\textit{M. subalba}}
\grp{tNA}{1162}{2600}{2635}{1182}{\textit{M. nana}}
\grp{tOV}{1096}{2643}{2678}{1113}{\textit{M. ovalispora}}
\grp{tAN}{994}{2685}{2699}{1006}{\textit{M. allantoidea}}
\grp{tSR}{1061}{2706}{2762}{1075}{\textit{M. suricatoides}}
\grp{tRF}{960}{2768}{2805}{983}{\textit{M. rufosquarrosa}}
\grp{tRO}{868}{2812}{2826}{887}{\textit{M. roseipes}}
\grp{tLO}{1015}{2832}{2867}{1035}{\textit{M. longicystis}}
\grp{tAG}{871}{2875}{2889}{891}{\textit{M. arginea}}
\grp{tGE}{959}{2894}{2929}{978}{\textit{M. geesterani}}
\grp{tBQ}{1084}{2937}{2952}{1103}{\textit{M. brunneosquamatus}}
\grp{tAO}{824}{2958}{2994}{845}{\textit{M. albofelina}}
\grp{tCO}{774}{3001}{3058}{796}{\textit{M. cortinata}}
\grp{tVE}{704}{3064}{3099}{727}{\textit{M. ventricocystidiata}}

% ---- clade names
\node[clade,text=tcGlob] (cGlob) at (262,374) {Clade globocystis};
\node[clade,text=tcFerr] (cFerr) at (262,1035) {Clade ferruginea};
\node[clade,text=tcLat] (cLat) at (262,1225) {Clade lateritia};
\node[clade,text=tcFurf] (cFurf) at (262,1388) {Clade furfuracea};
\node[clade,text=tcPleu] (cPleu) at (274,1521) {Clade pleurocystidiata};
\node[clade,text=tcMega] (cMega) at (262,1678) {Clade megaspora};
\node[clade,text=tcJiang] (cJiang) at (262,1797) {Clade jiangxiensis};
\node[clade,text=tcBif] (cBif) at (262,2256) {Clade bifida};
\node[clade,text=tcAlbo] (cAlbo) at (268,2977) {Clade albofelina};
\node[clade,text=tcCort] (cCort) at (268,3028) {Clade cortinata};
\node[clade,text=tcVent] (cVent) at (271,3083) {Clade ventricocystidiata};

% ---- scale bar
\coordinate (sbA) at (371,3173);
\coordinate (sbB) at (494,3173);
\draw[br] (sbA) -- (sbB);
\node[sup] (sbT) at (431,3189) {0.05};
\end{tikzpicture}
\end{document}
